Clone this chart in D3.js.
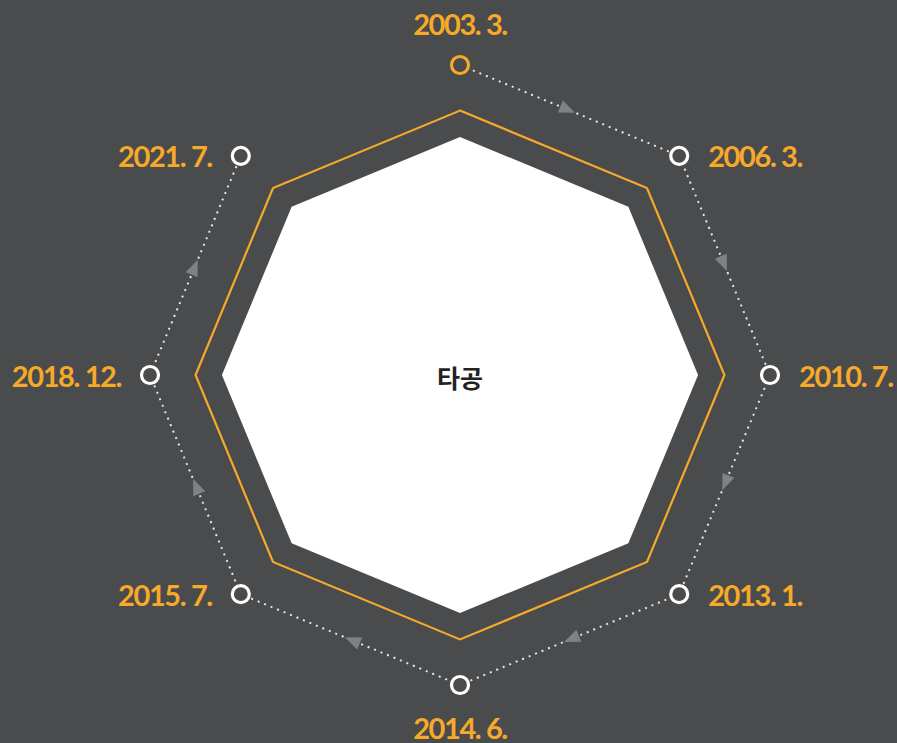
<!DOCTYPE html>
<html><head><meta charset="utf-8">
<script src="https://cdn.jsdelivr.net/npm/d3@7"></script>
<style>
html,body{margin:0;padding:0;background:#4a4b4d;}
svg{display:block;}
</style></head>
<body>
<script>
// Data
const milestones = ["2003. 3.", "2006. 3.", "2010. 7.", "2013. 1.", "2014. 6.", "2015. 7.", "2018. 12.", "2021. 7."];
const centerLabel = ["타공"];
const activeIndex = [0];

const W = 897, H = 743;
const cx = 460, cy = 375;
const orange = "#f7a92a", bg = "#4a4b4d";

const svg = d3.select("body").append("svg").attr("width", W).attr("height", H);
svg.append("rect").attr("width", W).attr("height", H).attr("fill", bg);

const angle = d3.scaleLinear().domain([0, milestones.length]).range([0, 2 * Math.PI]);
const radius = d3.scaleLinear().domain([0, 1]).range([0, 310]);
const pt = (i, r) => [cx + r * Math.sin(angle(i)), cy - r * Math.cos(angle(i))];

const g = svg.append("g");
const idx = d3.range(milestones.length);

// octagons
const line = d3.line().curve(d3.curveLinearClosed);
g.append("path").attr("d", line(idx.map(i => pt(i, radius(0.853))))).attr("fill", "none").attr("stroke", orange).attr("stroke-width", 2.2);
g.append("path").attr("d", line(idx.map(i => pt(i, radius(0.768))))).attr("fill", "#ffffff");

// dotted connectors + arrows
const segs = idx.slice(0, -1);
segs.forEach(i => {
  const a = pt(i, radius(1)), b = pt(i + 1, radius(1));
  g.append("line").attr("x1", a[0]).attr("y1", a[1]).attr("x2", b[0]).attr("y2", b[1])
    .attr("stroke", "#e6e6e6").attr("stroke-width", 2).attr("stroke-dasharray", "2,5")
    .attr("stroke-linecap", "butt");
  const m = [(a[0] + b[0]) / 2, (a[1] + b[1]) / 2];
  const dir = Math.atan2(b[1] - a[1], b[0] - a[0]) * 180 / Math.PI;
  g.append("path").attr("d", "M6,0 L-10,-6.5 L-10,6.5 Z")
    .attr("transform", `translate(${m[0]},${m[1]}) rotate(${dir})`)
    .attr("fill", "#808183");
});

// nodes
g.selectAll("circle.node").data(idx).join("circle").attr("class", "node")
  .attr("cx", i => pt(i, radius(1))[0]).attr("cy", i => pt(i, radius(1))[1])
  .attr("r", 8.5).attr("fill", bg)
  .attr("stroke", i => activeIndex.includes(i) ? orange : "#ffffff").attr("stroke-width", 3.2);

// labels
const labelPos = i => {
  const [x, y] = pt(i, radius(1));
  const s = Math.sin(angle(i)), c = Math.cos(angle(i));
  if (Math.abs(s) < 0.01) return {x, y: y - c * 42, anchor: "middle"};
  return {x: x + (s > 0 ? 29 : -29), y, anchor: s > 0 ? "start" : "end"};
};
g.selectAll("text.lab").data(idx).join("text").attr("class", "lab")
  .attr("x", i => labelPos(i).x).attr("y", i => labelPos(i).y)
  .attr("text-anchor", i => labelPos(i).anchor)
  .attr("dominant-baseline", "central")
  .attr("fill", orange)
  .attr("font-family", "Lato, 'Noto Sans', sans-serif").attr("font-weight", "bold")
  .attr("font-size", 29).attr("letter-spacing", -1.4)
  .text(i => milestones[i]);

g.append("text").attr("x", cx).attr("y", cy + 2).attr("text-anchor", "middle")
  .attr("dominant-baseline", "central").attr("fill", "#222")
  .attr("font-family", "'Noto Sans CJK KR', sans-serif").attr("font-weight", "bold")
  .attr("font-size", 25).text(centerLabel[0]);
</script>
</body></html>
